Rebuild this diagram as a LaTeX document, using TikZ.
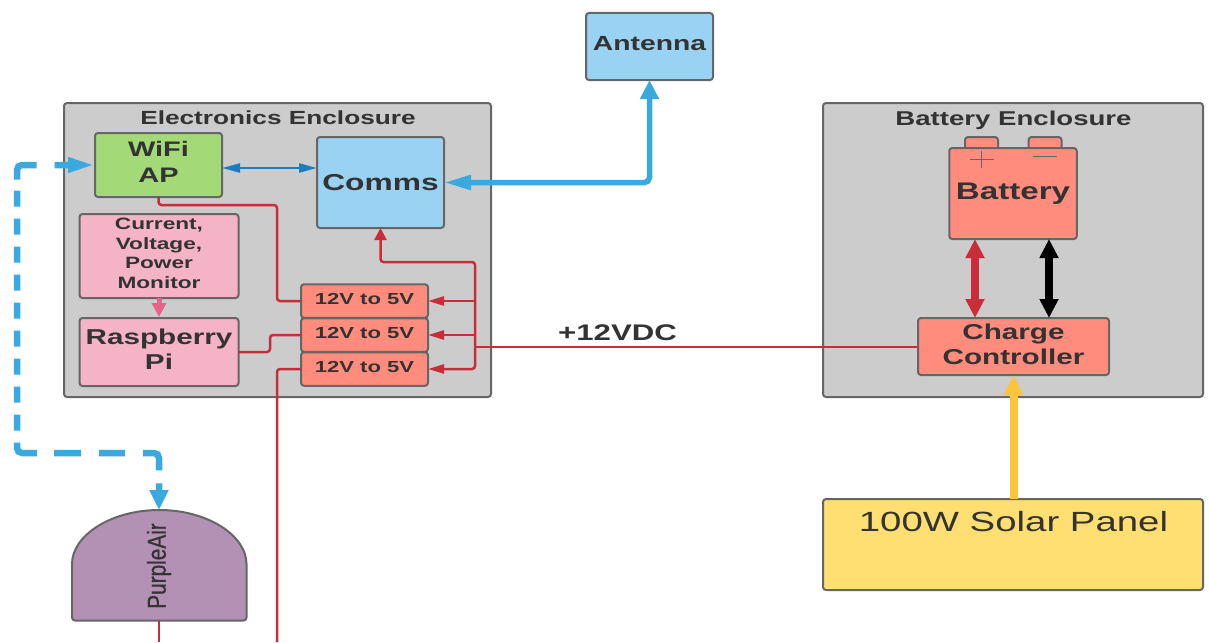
\documentclass[tikz,border=0pt]{standalone}
\usepackage{fontspec}
\setmainfont[FakeStretch=1.38]{Liberation Sans}
\newfontfamily\narrowfont[FakeStretch=0.8,FakeBold=0.6]{Liberation Sans}
\usetikzlibrary{
  arrows.meta,
  matrix,
  positioning,
}
\definecolor{boxLine}{HTML}{666666}
\definecolor{boxText}{HTML}{333333}
\definecolor{caseGray}{HTML}{CCCCCC}
\definecolor{wifiGreen}{HTML}{A3D977}
\definecolor{commsBlue}{HTML}{99D2F2}
\definecolor{piPink}{HTML}{F5B3C8}
\definecolor{powerSalmon}{HTML}{FF8C7C}
\definecolor{sensorPurple}{HTML}{B391B5}
\definecolor{solarYellow}{HTML}{FFDF71}
\definecolor{linkBlue}{HTML}{3AA9E0}
\definecolor{lanBlue}{HTML}{1A7DBD}
\definecolor{wireRed}{HTML}{C92D39}
\definecolor{wirePink}{HTML}{E5638A}
\definecolor{wireYellow}{HTML}{FCC438}
\tikzset{
  box default/.style = {
    draw=boxLine,
    line width=2pt,
    rounded corners=3pt,
    outer sep=0pt,
    inner sep=0pt,
    align=center,
    text=boxText,
  },
  size/.style args = {#1 by #2}{
    minimum width=#1pt,
    minimum height=#2pt,
  },
  lift/.style = {text depth=#1pt},
  enclosure/.style = {
    box default,
    fill=caseGray,
  },
  green box/.style = {box default, fill=wifiGreen},
  blue box/.style = {box default, fill=commsBlue},
  pink box/.style = {box default, fill=piPink},
  salmon box/.style = {box default, fill=powerSalmon},
  yellow box/.style = {box default, fill=solarYellow},
  big font/.style = {font=\bfseries\fontsize{#1}{25.5}\selectfont},
  title text/.style = {
    text=boxText,
    inner sep=0pt,
    font=\bfseries\fontsize{#1}{22}\selectfont,
  },
  converter matrix/.style = {
    matrix of nodes,
    row sep=-1.5pt,
    inner sep=0pt,
    nodes={
      salmon box,
      size=127 by 33.5,
      lift=5,
      font=\bfseries\fontsize{16}{20}\selectfont,
    },
  },
  red wire/.style = {
    draw=wireRed,
    line width=2.5pt,
    rounded corners=3pt,
  },
  red feed/.style = {
    red wire,
    -{Triangle[length=16pt,width=9pt]},
  },
  thick both/.style = {
    line width=8pt,
    {Triangle[length=19pt,width=18pt]}-{Triangle[length=19pt,width=18pt]},
  },
}

\begin{document}
\begin{tikzpicture}[x=1pt, y=1pt]
  \useasboundingbox (0,0) rectangle (1209,-642);
  %% enclosures
  \node (elec) [enclosure, size=427 by 294] at (277.5,-250) {};
  \node (batcase) [enclosure, size=380 by 294] at (1013,-250) {};
  \node (electitle) [title text=19] at (278,-118) {Electronics Enclosure};
  \node (battitle) [title text=20] at (1013.5,-120.5) {Battery Enclosure};
  %% upper nodes
  \node (antenna) [blue box, size=127 by 67, big font=20.5, lift=6] at (649.5,-46.5) {Antenna};
  \node (wifi) [green box, size=127 by 64, big font=21, lift=6] at (158.5,-165) {WiFi\\AP};
  \node (comms) [blue box, size=127 by 91, big font=23] at (380.5,-182.5) {Comms};
  \node (monitor) [pink box, size=159 by 84, lift=5, font=\bfseries\fontsize{16.4}{19.5}\selectfont]
    at (159,-256) {Current,\\Voltage,\\Power\\Monitor};
  \node (pi) [pink box, size=159 by 68, big font=21.5, lift=6, below=20pt of monitor] {Raspberry\\Pi};
  %% converters
  \matrix (m1) [converter matrix] at (364.5,-335) {
    12V to 5V\\
    12V to 5V\\
    12V to 5V\\
  };
  %% battery side
  \node (posterm) [salmon box, size=33 by 14] at (981.5,-144) {};
  \node (negterm) [salmon box, size=33 by 14] at (1045,-144) {};
  \node (battery) [salmon box, size=127.5 by 91, big font=24] at (1013,-193.5) {Battery};
  \node (charge) [salmon box, size=191 by 57, big font=21.5, lift=5] at (1013.5,-346.5) {Charge\\Controller};
  \node (solar) [yellow box, size=380 by 91] at (1013,-544.5) {};
  \node (solartext) [text=boxText, inner sep=0pt, font=\fontsize{27.8}{32}\selectfont] at (1013.5,-522) {100W Solar Panel};
  \node (dc) [inner sep=0pt, text=boxText, big font=22.6] at (617.5,-333) {+12VDC};
  %% plus and minus
  \draw[boxLine, line width=1.6pt] (969.5,-159.5) -- (993.5,-159.5) (981.5,-151) -- (981.5,-168);
  \draw[boxLine, line width=1.6pt] (1033,-156.5) -- (1057,-156.5);
  %% sensor
  \coordinate (airtop) at (159,-510);
  \coordinate (airbottom) at (159,-620.5);
  \draw[box default, fill=sensorPurple] (72,-567) arc[start angle=180, end angle=0, x radius=87.25, y radius=57]
    -- (246.5,-620.5) -- (72,-620.5) -- cycle;
  \node (air) [rotate=90, inner sep=0pt, text=boxText, font=\narrowfont\fontsize{26}{28}\selectfont] at (159,-566) {PurpleAir};
  %% free ends
  \coordinate (hub) at (475,-346.5);
  \coordinate (riser) at (475,-262);
  \coordinate (bottomright) at (277,-642);
  \coordinate (bottomleft) at (159,-642);
  \coordinate (loopa) at (17,-165);
  \coordinate (loopb) at (17,-453);
  %% power wires
  \draw[red wire, line width=2pt] (charge.west) -- (hub);
  \draw[red wire, -{Triangle[length=12pt,width=12pt]}] (hub) -- (riser) -| (comms.south);
  \draw[red feed] (hub |- m1-1-1.east) -- (m1-1-1.east);
  \draw[red feed] (hub |- m1-2-1.east) -- (m1-2-1.east);
  \draw[red feed] (hub) |- (m1-3-1.east);
  \draw[red wire] (wifi.south) |- (277,-205) |- (m1-1-1.west);
  \draw[red wire] (pi.east) -- (270,-352) |- (m1-2-1.west);
  \draw[red wire] (m1-3-1.west) -| (bottomright);
  \draw[red wire] (airbottom) -- (bottomleft);
  %% data links
  \draw[linkBlue, line width=6.5pt, rounded corners=5pt,
    dash pattern=on 15pt off 18pt on 32pt off 11pt
      on 16pt off 12pt on 16pt off 12pt on 16pt off 12pt on 16pt off 12pt
      on 16pt off 12pt on 16pt off 12pt on 16pt off 12pt on 16pt off 12pt on 16pt off 12pt
      on 28pt off 17pt on 27pt off 18pt on 26pt off 18pt on 31pt off 13pt on 40pt off 0pt,
    {Triangle[length=27pt,width=14pt]}-{Triangle[length=20pt,width=18pt]}]
    (wifi.west) -- (loopa) -- (loopb) -| (airtop);
  \draw[linkBlue, line width=5.5pt, rounded corners=5pt,
    {Triangle[length=27pt,width=14pt]}-{Triangle[length=19pt,width=18pt]}]
    (comms.east) -| (antenna.south);
  \draw[lanBlue, line width=2.5pt, {Triangle[length=18pt,width=9pt]}-{Triangle[length=18pt,width=9pt]}]
    ([yshift=-3pt]wifi.east) -- ([yshift=-3pt]wifi.east -| comms.west);
  \draw[wirePink, line width=5pt, shorten >=1pt, -{Triangle[length=14pt,width=14pt]}] (monitor.south) -- (pi.north);
  %% battery links
  \draw[wireRed, thick both] ([xshift=-38pt]battery.south) -- ([xshift=-38pt]battery.south |- charge.north);
  \draw[black, thick both] ([xshift=36pt]battery.south) -- ([xshift=36pt]battery.south |- charge.north);
  \draw[wireYellow, line width=8pt, -{Triangle[length=20pt,width=18pt]}] (solar.north -| charge.south) -- (charge.south);
\end{tikzpicture}
\end{document}
